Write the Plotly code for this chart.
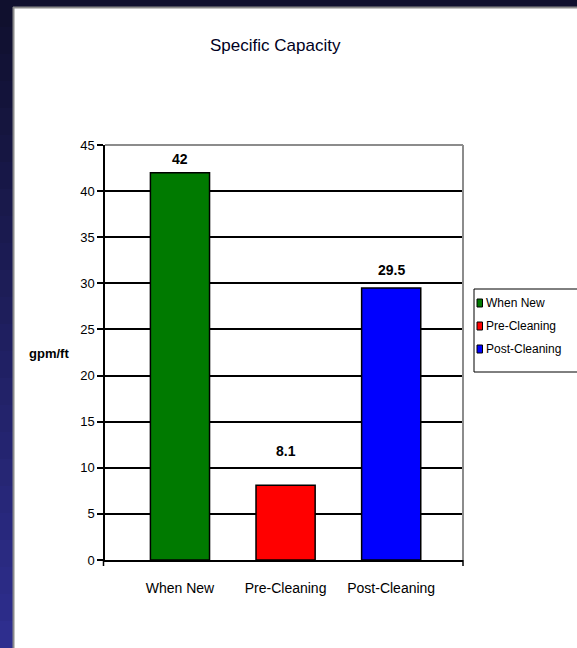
import plotly.graph_objects as go

# ---- data ----
categories = ["When New", "Pre-Cleaning", "Post-Cleaning"]
values = [42, 8.1, 29.5]
value_labels = ["42", "8.1", "29.5"]
bar_colors = ["#007a00", "#ff0000", "#0000ff"]
y_ticks = [0, 5, 10, 15, 20, 25, 30, 35, 40, 45]

# ---- layout geometry (pixels) ----
FIG_W, FIG_H = 577, 648
L, R, T, B = 105, 463, 145, 560
W, H = R - L, B - T

def px_x(px):
    return (px - L) / W

def px_y(py):
    return (B - py) / H

FONT = "Liberation Sans, Arial, sans-serif"

fig = go.Figure()
fig.add_trace(go.Bar(
    x=categories, y=values,
    marker=dict(color=bar_colors, line=dict(color="black", width=1.5)),
    width=0.56, showlegend=False, hoverinfo="x+y",
))

shapes = []
# dark frame: top strip
shapes.append(dict(type="rect", xref="paper", yref="paper", layer="below",
                   x0=px_x(0), x1=px_x(FIG_W), y0=px_y(0), y1=px_y(7),
                   fillcolor="#10102e", line=dict(width=0)))
# left strip with vertical gradient
n = 24
c0 = (16, 16, 46)
c1 = (46, 46, 142)
for i in range(n):
    t = i / (n - 1)
    col = tuple(int(c0[k] + (c1[k] - c0[k]) * t) for k in range(3))
    y0p = FIG_H * i / n
    y1p = FIG_H * (i + 1) / n
    shapes.append(dict(type="rect", xref="paper", yref="paper", layer="below",
                       x0=px_x(0), x1=px_x(13), y0=px_y(y1p + 1), y1=px_y(y0p),
                       fillcolor="rgb(%d,%d,%d)" % col, line=dict(width=0)))
# panel edge shadow
shapes.append(dict(type="line", xref="paper", yref="paper", layer="below",
                   x0=px_x(13.5), x1=px_x(13.5), y0=px_y(FIG_H), y1=px_y(7),
                   line=dict(color="#8a8a8a", width=2)))
shapes.append(dict(type="line", xref="paper", yref="paper", layer="below",
                   x0=px_x(13), x1=px_x(FIG_W), y0=px_y(7.5), y1=px_y(7.5),
                   line=dict(color="#8a8a8a", width=2)))
# plot area top & right border (gray)
shapes.append(dict(type="line", xref="paper", yref="paper",
                   x0=0, x1=1, y0=1, y1=1, line=dict(color="#8c8c8c", width=2)))
shapes.append(dict(type="line", xref="paper", yref="paper",
                   x0=1, x1=1, y0=0, y1=1, line=dict(color="#8c8c8c", width=2)))
# small end ticks under the x axis
for xp in (103.5, 463):
    shapes.append(dict(type="line", xref="paper", yref="paper",
                       x0=px_x(xp), x1=px_x(xp), y0=px_y(560), y1=px_y(566),
                       line=dict(color="black", width=1.5)))
# legend box
shapes.append(dict(type="rect", xref="paper", yref="paper",
                   x0=px_x(474), x1=px_x(600), y0=px_y(372), y1=px_y(289),
                   fillcolor="white", line=dict(color="black", width=1)))

annotations = []
# title
annotations.append(dict(text="Specific Capacity", xref="paper", yref="paper",
                        x=px_x(275), y=px_y(46), showarrow=False,
                        xanchor="center", yanchor="middle",
                        font=dict(family=FONT, size=17, color="#000022")))
# y axis title
annotations.append(dict(text="<b>gpm/ft</b>", xref="paper", yref="paper",
                        x=px_x(49), y=px_y(353), showarrow=False,
                        xanchor="center", yanchor="middle",
                        font=dict(family=FONT, size=13, color="black")))
# value labels
label_shift = [4, 24, 8]
for cat, v, lab, s in zip(categories, values, value_labels, label_shift):
    annotations.append(dict(text="<b>" + lab + "</b>", x=cat, y=v, xref="x", yref="y",
                            showarrow=False, yanchor="bottom", yshift=s,
                            font=dict(family=FONT, size=14, color="black")))
# legend entries
for i, (cat, col) in enumerate(zip(categories, bar_colors)):
    yc = 303 + 23 * i
    shapes.append(dict(type="rect", xref="paper", yref="paper",
                       x0=px_x(477), x1=px_x(482.5), y0=px_y(yc + 4), y1=px_y(yc - 4),
                       fillcolor=col, line=dict(color="black", width=1)))
    annotations.append(dict(text=cat, xref="paper", yref="paper",
                            x=px_x(484), y=px_y(yc), showarrow=False,
                            xanchor="left", yanchor="middle",
                            font=dict(family=FONT, size=12, color="black")))

fig.update_layout(
    width=FIG_W, height=FIG_H,
    margin=dict(l=L, r=FIG_W - R, t=T, b=FIG_H - B, autoexpand=False),
    paper_bgcolor="white", plot_bgcolor="white",
    shapes=shapes, annotations=annotations,
    bargap=0.44,
    showlegend=False,
    xaxis=dict(
        type="category", range=[-0.71, 2.68],
        showline=True, linecolor="black", linewidth=1.5,
        showgrid=False, ticks="", tickangle=0,
        tickfont=dict(family=FONT, size=14, color="black"),
        ticklabelstandoff=14,
    ),
    yaxis=dict(
        range=[0, 45], tickvals=y_ticks,
        showline=True, linecolor="black", linewidth=1.5,
        showgrid=True, gridcolor="black", gridwidth=1.5,
        zeroline=False,
        ticks="outside", ticklen=6, tickcolor="black", tickwidth=1.5,
        tickfont=dict(family=FONT, size=13, color="black"),
    ),
)

fig.write_html("out.html")
